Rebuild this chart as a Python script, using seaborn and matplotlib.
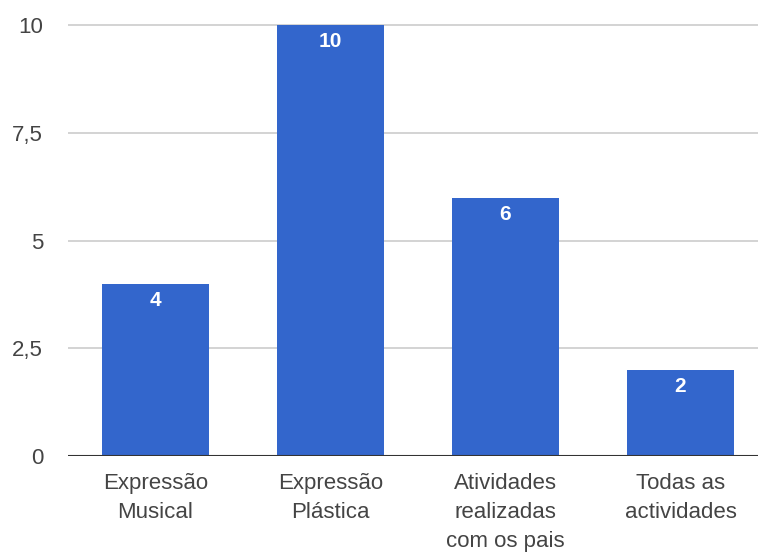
import matplotlib
matplotlib.use("Agg")
import matplotlib.pyplot as plt
import seaborn as sns
import pandas as pd

categories = ["Expressão\nMusical", "Expressão\nPlástica",
              "Atividades\nrealizadas\ncom os pais", "Todas as\nactividades"]
values = [4, 10, 6, 2]
y_ticks = [0, 2.5, 5, 7.5, 10]
y_tick_labels = ["0", "2,5", "5", "7,5", "10"]

sns.set_theme(style="white")
plt.rcParams["font.family"] = ["Liberation Sans", "DejaVu Sans"]

df = pd.DataFrame({"categoria": categories, "valor": values})

fig = plt.figure(figsize=(7.58, 5.54), dpi=100)
ax = fig.add_axes([68 / 758, 98 / 554, 690 / 758, 432 / 554])

sns.barplot(data=df, x="categoria", y="valor", color="#3366CC",
            saturation=1, width=0.612, ax=ax, zorder=3, linewidth=0)

ax.set_xlim(-0.5, -0.5 + 690 / 175)
ax.set_ylim(0, 10.03)
ax.set_yticks(y_ticks)
ax.set_yticklabels(y_tick_labels)
ax.set_xlabel("")
ax.set_ylabel("")

for s in ax.spines.values():
    s.set_visible(False)

ax.yaxis.grid(True, color="#CCCCCC", linewidth=1.2, zorder=0)
ax.set_axisbelow(True)
ax.axhline(0, color="#333333", linewidth=1.5, zorder=4)

ax.tick_params(axis="y", length=0, pad=18, labelsize=16, labelcolor="#444444")
ax.tick_params(axis="x", length=0, pad=12, labelsize=16, labelcolor="#444444")
for lbl in ax.get_xticklabels():
    lbl.set_linespacing(1.5)

for i, v in enumerate(values):
    ax.annotate(str(v), (i, v), xytext=(0, -5), textcoords="offset points",
                ha="center", va="top", color="white", fontsize=15,
                fontweight="bold", zorder=5)

fig.savefig("out.png", dpi=100)
